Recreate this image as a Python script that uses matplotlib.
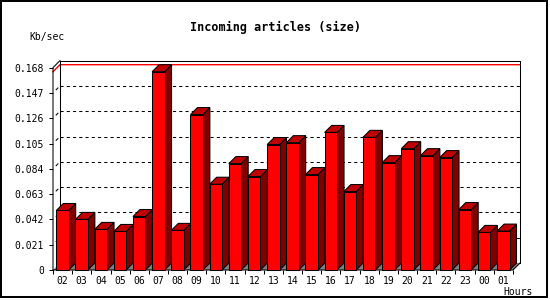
import matplotlib
matplotlib.use("Agg")
import matplotlib.pyplot as plt
from matplotlib.patches import Polygon, Rectangle

hours = ['02', '03', '04', '05', '06', '07', '08', '09', '10', '11', '12', '13',
         '14', '15', '16', '17', '18', '19', '20', '21', '22', '23', '00', '01']
kbsec = [0.0494, 0.0420, 0.0337, 0.0320, 0.0444, 0.1646, 0.0329, 0.1290,
         0.0712, 0.0883, 0.0776, 0.1041, 0.1057, 0.0792, 0.1142, 0.0651,
         0.1101, 0.0891, 0.1007, 0.0949, 0.0933, 0.0502, 0.0312, 0.0323]
yticks = [0, 0.021, 0.042, 0.063, 0.084, 0.105, 0.126, 0.147, 0.168]
ytick_labels = ['0', '0.021', '0.042', '0.063', '0.084', '0.105', '0.126', '0.147', '0.168']

mono = 'DejaVu Sans Mono'
W, H = 550, 300
fig = plt.figure(figsize=(5.5, 3), dpi=100)
fig.patch.set_facecolor('white')

# front plane of the chart, in pixels
ax_l, ax_b, ax_w, ax_h = 53, 30, 460, 202.4
ax = fig.add_axes([ax_l / W, ax_b / H, ax_w / W, ax_h / H])
n = len(hours)
ymax = yticks[-1]
ax.set_xlim(0, n)
ax.set_ylim(0, ymax)
ax.set_facecolor('none')
for s in ax.spines.values():
    s.set_visible(False)

# 3d depth: 7 px right, 7 px up
dx = 7 / ax_w * n
dy = 7 / ax_h * ymax
lw = 0.75

# floor (grey, only seen between bars)
ax.add_patch(Polygon([(0, 0), (n, 0), (n + dx, dy), (dx, dy)], closed=True,
                     facecolor='#808080', edgecolor='none', zorder=1, clip_on=False))

# dotted grid on back wall, short marks on the left wall
for v in yticks[1:-1]:
    ax.plot([dx, n + dx], [v + dy, v + dy], color='black', lw=lw,
            linestyle=(0, (3, 3)), zorder=1.5, clip_on=False)
    ax.plot([0.45 * dx, 0.7 * dx], [v + 0.45 * dy, v + 0.7 * dy], color='black',
            lw=lw, zorder=1.5, clip_on=False)

# max line in red
vmax = max(kbsec)
ax.plot([0, dx, n + dx], [vmax, vmax + dy, vmax + dy], color='red', lw=1.0,
        zorder=1.6, clip_on=False)

# box outline
frame = dict(color='black', lw=lw, zorder=1.7, clip_on=False)
ax.plot([dx, dx, n + dx, n + dx], [dy, ymax + dy, ymax + dy, dy], **frame)
ax.plot([0, 0, dx], [0, ymax, ymax + dy], **frame)
ax.plot([0, n, n + dx], [0, 0, dy], **frame)

# bars
off = 0.172
bw = 0.647
bars = ax.bar([i + off for i in range(n)], kbsec, width=bw, align='edge',
              color='#ff0000', edgecolor='black', linewidth=lw, clip_on=False)
for i, (rect, v) in enumerate(zip(bars, kbsec)):
    z = 3 + i * 0.1
    x0 = i + off
    x1 = x0 + bw
    side = Polygon([(x1, 0), (x1 + dx, dy), (x1 + dx, v + dy), (x1, v)], closed=True,
                   facecolor='#800000', edgecolor='black', lw=lw, zorder=z, clip_on=False)
    top = Polygon([(x0, v), (x1, v), (x1 + dx, v + dy), (x0 + dx, v + dy)], closed=True,
                  facecolor='#c00000', edgecolor='black', lw=lw, zorder=z, clip_on=False)
    ax.add_patch(side)
    ax.add_patch(top)
    rect.set_zorder(z + 0.05)

# ticks
ax.set_yticks(yticks)
ax.set_yticklabels(ytick_labels, fontfamily=mono, fontsize=7)
ax.set_xticks(range(n + 1))
ax.set_xticklabels([])
ax.set_xticks([i + 0.5 for i in range(n)], minor=True)
ax.set_xticklabels(hours, minor=True, fontfamily=mono, fontsize=7)
ax.tick_params(axis='y', length=2.9, width=lw, pad=3.5)
ax.tick_params(axis='x', which='major', length=2.9, width=lw)
ax.tick_params(axis='x', which='minor', length=0, pad=4)

# texts
fig.text(276 / W, 1 - 27 / H, 'Incoming articles (size)', fontfamily=mono,
         fontsize=8.5, fontweight='bold', ha='center', va='center')
fig.text(29 / W, 1 - 37 / H, 'Kb/sec', fontfamily=mono, fontsize=7,
         ha='left', va='center')
fig.text(533 / W, 1 - 292 / H, 'Hours', fontfamily=mono, fontsize=7,
         ha='right', va='center')

# image border
fig.patches.append(Rectangle((0.75 / W, 3.5 / H), 545.75 / W, 295.75 / H,
                             transform=fig.transFigure, fill=False,
                             edgecolor='black', lw=1.45))

fig.savefig('out.png', dpi=100)
